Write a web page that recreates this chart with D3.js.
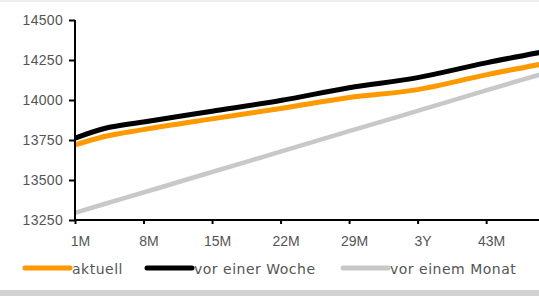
<!DOCTYPE html>
<html>
<head>
<meta charset="utf-8">
<script src="https://cdn.jsdelivr.net/npm/d3@7"></script>
<style>
  body { margin: 0; background: #fff; }
  svg { display: block; font-family: "DejaVu Sans", sans-serif; }
</style>
</head>
<body>
<div class="chart"></div>
<script>
// months since start (x values of the curve points)
let months = [1, 4, 8, 15, 22, 29, 36, 43, 49];
let aktuell = [13719, 13772, 13815, 13882, 13947, 14015, 14065, 14157, 14228];
let vorWoche = [13762, 13822, 13863, 13930, 13997, 14077, 14140, 14232, 14303];
let vorMonat = [13295, 13350, 13422, 13550, 13677, 13805, 13932, 14060, 14168];

let xTicks = [1, 8, 15, 22, 29, 36, 43];
let xTickLabels = ['1M', '8M', '15M', '22M', '29M', '3Y', '43M'];
let yTicks = [13250, 13500, 13750, 14000, 14250, 14500];

let series = [
    { name: 'aktuell', values: aktuell, color: '#ff9900', w: 5 },
    { name: 'vor einer Woche', values: vorWoche, color: '#000000', w: 5 },
    { name: 'vor einem Monat', values: vorMonat, color: '#c8c8c8', w: 4.5 }
];

let width = 539, height = 296;
let margin = { top: 20, left: 75, bottom: 76 };

let x = d3.scaleLinear().domain([1, 48.4]).range([margin.left, width]);
let y = d3.scaleLinear().domain([13250, 14500]).range([height - margin.bottom, margin.top]);

let svg = d3.select('.chart').append('svg')
    .attr('width', width)
    .attr('height', height);

// frame bits
svg.append('rect').attr('x', 0).attr('y', 0).attr('width', width).attr('height', 2).attr('fill', '#eeeeee');
svg.append('rect').attr('x', 0).attr('y', 290).attr('width', width).attr('height', 6).attr('fill', '#d2d2d2');

svg.append('clipPath').attr('id', 'plot')
    .append('rect').attr('x', margin.left).attr('y', 0).attr('width', width - margin.left).attr('height', height - margin.bottom + 5);

let line = d3.line()
    .x((d, i) => x(months[i]))
    .y(d => y(d))
    .curve(d3.curveMonotoneX);

let lines = svg.append('g').attr('clip-path', 'url(#plot)');
series.slice().reverse().forEach(s => {
    lines.append('path')
        .attr('d', line(s.values))
        .attr('fill', 'none')
        .attr('stroke', s.color)
        .attr('stroke-width', s.w);
});

// y axis
let yAxis = d3.axisLeft(y).tickValues(yTicks).tickSize(6).tickPadding(6).tickFormat(d3.format('d'));
let gy = svg.append('g').attr('transform', 'translate(' + margin.left + ',0)').call(yAxis);
gy.select('.domain').attr('stroke', '#000').attr('stroke-width', 2).attr('d', 'M0,' + y(14500) + 'V' + y(13250));
gy.selectAll('.tick line').attr('stroke', '#000').attr('stroke-width', 2);
gy.selectAll('.tick text').attr('fill', '#555').style('font-size', '14px').style('letter-spacing', '0.3px');

// x axis
let xAxis = d3.axisBottom(x).tickValues(xTicks).tickSize(4).tickPadding(12)
    .tickFormat((d, i) => xTickLabels[i]);
let gx = svg.append('g').attr('transform', 'translate(0,' + y(13250) + ')').call(xAxis);
gx.select('.domain').attr('stroke', '#000').attr('stroke-width', 2).attr('d', 'M' + margin.left + ',0H' + width);
gx.selectAll('.tick line').attr('stroke', '#000').attr('stroke-width', 2);
gx.selectAll('.tick text').attr('fill', '#555').style('font-size', '14px').attr('dx', 5);

// legend
let legendX = [25, 147, 343];
let legend = svg.append('g');
series.forEach((s, i) => {
    legend.append('line')
        .attr('x1', legendX[i]).attr('x2', legendX[i] + 45)
        .attr('y1', 268).attr('y2', 268)
        .attr('stroke', s.color)
        .attr('stroke-width', 5)
        .attr('stroke-linecap', 'round');
    legend.append('text')
        .attr('x', legendX[i] + 47)
        .attr('y', 274)
        .attr('fill', '#555')
        .style('font-size', '14px')
        .style('letter-spacing', '0.5px')
        .text(s.name);
});
</script>
</body>
</html>
